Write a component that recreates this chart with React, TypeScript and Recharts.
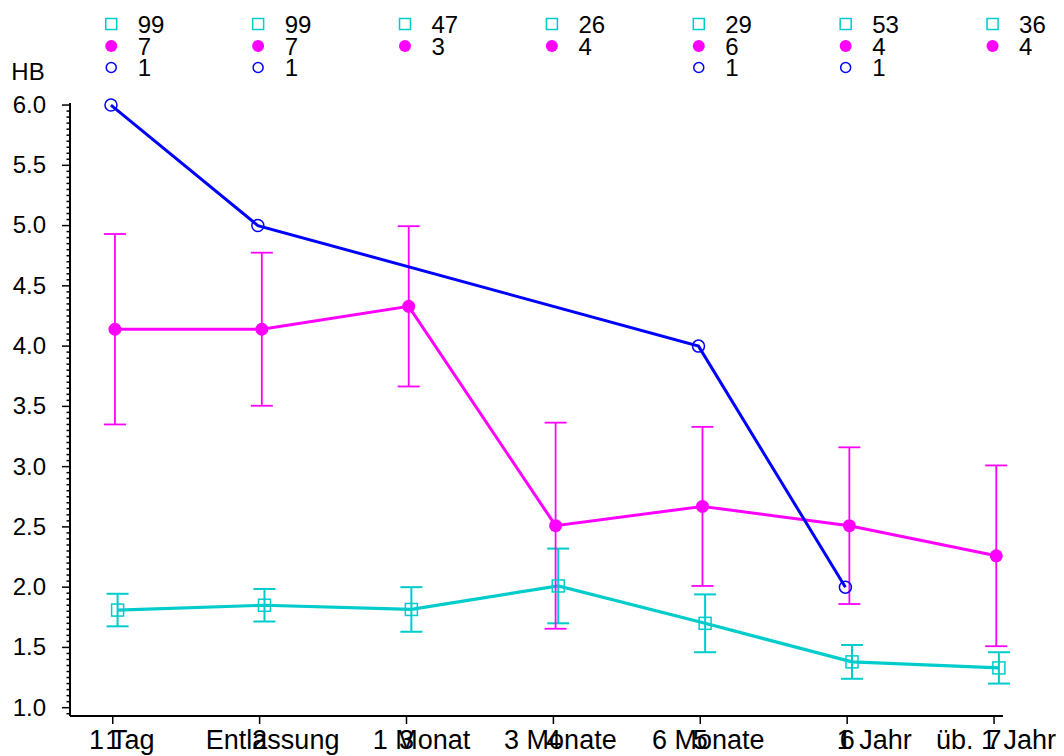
import React from 'react';
import { ComposedChart, Line, XAxis, YAxis, ErrorBar, Label } from 'recharts';

// ---- data ----
const categories = ['1 Tag', 'Entlassung', '1 Monat', '3 Monate', '6 Monate', '1 Jahr', 'üb. 1 Jahr'];
const tickNumbers = ['1', '2', '3', '4', '5', '6', '7'];
const categoryPositions = [1, 2, 3, 4, 5, 6, 7];

const cyanMean = [1.81, 1.85, 1.815, 2.01, 1.70, 1.38, 1.33];
const cyanErr = [0.135, 0.135, 0.185, 0.31, 0.24, 0.14, 0.13];
const cyanN = [99, 99, 47, 26, 29, 53, 36];

const magentaMean = [4.14, 4.14, 4.33, 2.51, 2.67, 2.51, 2.26];
const magentaErr = [0.79, 0.635, 0.665, 0.855, 0.66, 0.65, 0.75];
const magentaN = [7, 7, 3, 4, 6, 4, 4];

const blueMean: (number | null)[] = [6.0, 5.0, null, null, 4.0, 2.0, null];
const blueN: (number | null)[] = [1, 1, null, null, 1, 1, null];

const yMajorTicks = [1.0, 1.5, 2.0, 2.5, 3.0, 3.5, 4.0, 4.5, 5.0, 5.5, 6.0];

// ---- styling ----
const CYAN = '#00cccc';
const MAGENTA = '#ff00ff';
const BLUE = '#0000ff';
const FONT = '"Liberation Sans", Arial, Helvetica, sans-serif';
const DODGE = { blue: -0.012, magenta: 0.015, cyan: 0.033 };
const CATEGORY_LABEL_DX = [9, 13, 15, 7, 8, 27, 2];

const yTicks: number[] = [];
for (let k = 19; k <= 120; k++) yTicks.push(Math.round(k * 5) / 100);

const cyanData = categoryPositions.map((p, i) => ({ x: p + DODGE.cyan, y: cyanMean[i], err: cyanErr[i] }));
const magentaData = categoryPositions.map((p, i) => ({ x: p + DODGE.magenta, y: magentaMean[i], err: magentaErr[i] }));
const blueData = categoryPositions
  .map((p, i) => ({ x: p + DODGE.blue, y: blueMean[i] }))
  .filter((d) => d.y !== null);
const legendAnchor = categoryPositions.map((p, i) => ({ x: p, y: magentaMean[i] }));

const isMajor = (v: number) => yMajorTicks.some((m) => Math.abs(m - v) < 1e-6);

const YTick = (props: any) => {
  const { x, y, payload } = props;
  const v = payload.value as number;
  const major = isMajor(v);
  return (
    <g>
      <line x1={major ? x : x + 4.5} x2={x + 8} y1={y} y2={y} stroke="#000" strokeWidth={1.5} />
      {major && (
        <text x={x - 16} y={y} dy="0.33em" textAnchor="end" fontSize={24} fontFamily={FONT} fill="#000">
          {v.toFixed(1)}
        </text>
      )}
    </g>
  );
};

const XTick = (props: any) => {
  const { x, y, index } = props;
  return (
    <g>
      <line x1={x} x2={x} y1={y - 8} y2={y} stroke="#000" strokeWidth={1.5} />
      <text x={x + CATEGORY_LABEL_DX[index]} y={y + 25} textAnchor="middle" fontSize={27} fontFamily={FONT} fill="#000">
        {categories[index]}
      </text>
      <text x={x} y={y + 25} textAnchor="middle" fontSize={27} fontFamily={FONT} fill="#000">
        {tickNumbers[index]}
      </text>
    </g>
  );
};

const LegendTick = (props: any) => {
  const { x, y, index } = props;
  const rows = [y - 79, y - 57, y - 35.5];
  const sx = x - 1.5;
  const tx = x + 25;
  return (
    <g fontFamily={FONT} fontSize={24} fill="#000">
      <rect x={sx - 5.5} y={rows[0] - 5.5} width={11} height={11} fill="none" stroke={CYAN} strokeWidth={1.5} />
      <text x={tx} y={rows[0]} dy="0.36em">{cyanN[index]}</text>
      <circle cx={sx} cy={rows[1]} r={6} fill={MAGENTA} />
      <text x={tx} y={rows[1]} dy="0.36em">{magentaN[index]}</text>
      {blueN[index] !== null && (
        <>
          <circle cx={sx} cy={rows[2]} r={5} fill="none" stroke={BLUE} strokeWidth={1.5} />
          <text x={tx} y={rows[2]} dy="0.36em">{blueN[index]}</text>
        </>
      )}
    </g>
  );
};

const SquareDot = (p: any) => (
  <rect key={`sq-${p.index}`} x={p.cx - 6} y={p.cy - 6} width={12} height={12} fill="none" stroke={CYAN} strokeWidth={1.5} />
);
const FilledDot = (p: any) => <circle key={`fc-${p.index}`} cx={p.cx} cy={p.cy} r={6.5} fill={MAGENTA} />;
const OpenDot = (p: any) => (
  <circle key={`oc-${p.index}`} cx={p.cx} cy={p.cy} r={6} fill="none" stroke={BLUE} strokeWidth={1.5} />
);

export default function App() {
  return (
    <ComposedChart width={1056} height={748} margin={{ top: 0, right: 61, bottom: 0, left: 0 }} style={{ overflow: 'visible' }}>
      <XAxis
        xAxisId="main"
        type="number"
        dataKey="x"
        domain={[0.709, 7.061]}
        ticks={categoryPositions}
        interval={0}
        height={40}
        tickSize={8}
        tickMargin={0}
        tickLine={false}
        axisLine={{ stroke: '#000', strokeWidth: 2 }}
        tick={<XTick />}
      />
      <XAxis
        xAxisId="legend"
        orientation="top"
        type="number"
        dataKey="x"
        domain={[0.709, 7.061]}
        ticks={categoryPositions}
        interval={0}
        height={95}
        tickSize={0}
        tickMargin={0}
        tickLine={false}
        axisLine={false}
        tick={<LegendTick />}
      />
      <YAxis
        type="number"
        domain={[0.931, 6.017]}
        ticks={yTicks}
        interval={0}
        width={62}
        tickSize={8}
        tickMargin={0}
        tickLine={false}
        axisLine={{ stroke: '#000', strokeWidth: 2 }}
        tick={<YTick />}
      >
        <Label
          content={(lp: any) => {
            const vb = lp.viewBox || { x: 0, y: 95, width: 62 };
            return (
              <text x={vb.x + vb.width / 2 - 11} y={vb.y - 31} dy="0.35em" textAnchor="middle" fontSize={24} fontFamily={FONT} fill="#000">
                HB
              </text>
            );
          }}
        />
      </YAxis>
      <Line
        xAxisId="legend"
        data={legendAnchor}
        dataKey="y"
        stroke="none"
        dot={false}
        activeDot={false}
        legendType="none"
        isAnimationActive={false}
      />
      <Line
        xAxisId="main"
        data={cyanData}
        dataKey="y"
        stroke={CYAN}
        strokeWidth={3.2}
        dot={SquareDot}
        activeDot={false}
        isAnimationActive={false}
      >
        <ErrorBar dataKey="err" direction="y" width={11} stroke={CYAN} strokeWidth={2} isAnimationActive={false} />
      </Line>
      <Line
        xAxisId="main"
        data={magentaData}
        dataKey="y"
        stroke={MAGENTA}
        strokeWidth={3}
        dot={FilledDot}
        activeDot={false}
        isAnimationActive={false}
      >
        <ErrorBar dataKey="err" direction="y" width={11} stroke={MAGENTA} strokeWidth={1.8} isAnimationActive={false} />
      </Line>
      <Line
        xAxisId="main"
        data={blueData}
        dataKey="y"
        stroke={BLUE}
        strokeWidth={3}
        dot={OpenDot}
        activeDot={false}
        isAnimationActive={false}
      />
    </ComposedChart>
  );
}
